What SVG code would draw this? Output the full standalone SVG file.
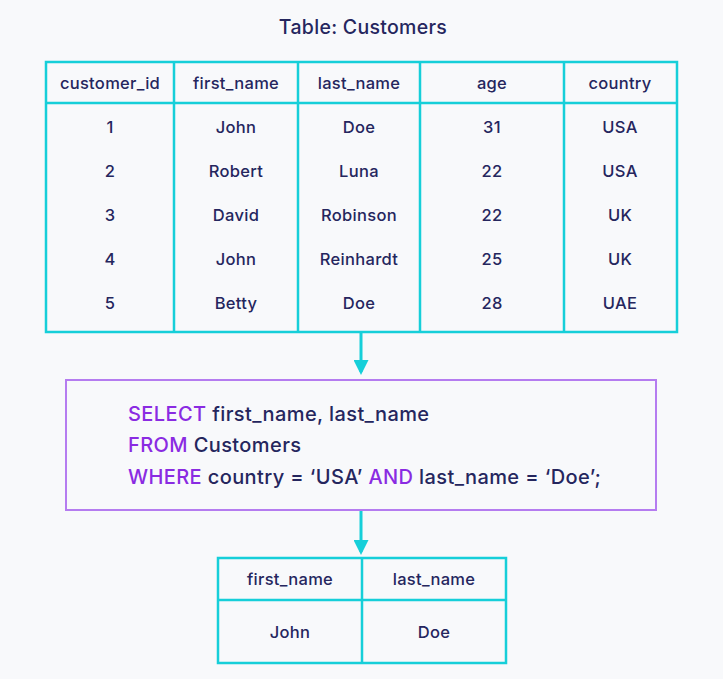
<svg xmlns="http://www.w3.org/2000/svg" width="723" height="679" viewBox="0 0 723 679">
<defs>
<style>
.t{font-family:Inter,"Noto Sans","Liberation Sans",sans-serif;fill:#25265e;text-anchor:middle;font-size:16.5px;font-weight:500;letter-spacing:0.3px}
.grid{fill:none;stroke:#16cfd9;stroke-width:2.5}
.sql{font-family:Inter,"Noto Sans","Liberation Sans",sans-serif;fill:#25265e;font-size:20px;font-weight:500;letter-spacing:0.4px}
.kw{fill:#8a2be2}
.conn{stroke:#16cfd9;stroke-width:3;fill:none}
</style>
<marker id="ah" markerWidth="5" markerHeight="5" refX="4" refY="2.5" orient="auto" markerUnits="strokeWidth">
<path d="M0,0 L5,2.5 L0,5 Z" fill="#16cfd9"/>
</marker>
</defs>
<rect width="723" height="679" fill="#f8f9fb"/>
<text class="t" x="363" y="34" style="font-size:19.5px">Table: Customers</text>
<g id="customers">
<rect class="grid" x="46" y="62" width="631" height="270"/>
<path class="grid" d="M46,103H677M174,62V332M298,62V332M420,62V332M564,62V332"/>
<text class="t" x="110" y="89">customer_id</text>
<text class="t" x="236" y="89">first_name</text>
<text class="t" x="359" y="89">last_name</text>
<text class="t" x="492" y="89">age</text>
<text class="t" x="620" y="89">country</text>
<g>
<text class="t" x="110" y="133">1</text><text class="t" x="236" y="133">John</text><text class="t" x="359" y="133">Doe</text><text class="t" x="492" y="133">31</text><text class="t" x="620" y="133">USA</text>
<text class="t" x="110" y="177">2</text><text class="t" x="236" y="177">Robert</text><text class="t" x="359" y="177">Luna</text><text class="t" x="492" y="177">22</text><text class="t" x="620" y="177">USA</text>
<text class="t" x="110" y="221">3</text><text class="t" x="236" y="221">David</text><text class="t" x="359" y="221">Robinson</text><text class="t" x="492" y="221">22</text><text class="t" x="620" y="221">UK</text>
<text class="t" x="110" y="265">4</text><text class="t" x="236" y="265">John</text><text class="t" x="359" y="265">Reinhardt</text><text class="t" x="492" y="265">25</text><text class="t" x="620" y="265">UK</text>
<text class="t" x="110" y="309">5</text><text class="t" x="236" y="309">Betty</text><text class="t" x="359" y="309">Doe</text><text class="t" x="492" y="309">28</text><text class="t" x="620" y="309">UAE</text>
</g>
</g>
<g id="query">
<rect x="66" y="380" width="590" height="130" fill="#f8f9fb" stroke="#b57cf0" stroke-width="2"/>
<text class="sql" x="128" y="421"><tspan class="kw">SELECT</tspan> first_name, last_name</text>
<text class="sql" x="128" y="452"><tspan class="kw">FROM</tspan> Customers</text>
<text class="sql" x="128" y="484"><tspan class="kw">WHERE</tspan> country = ‘USA’ <tspan class="kw">AND</tspan> last_name = ‘Doe’;</text>
</g>
<g id="result">
<rect class="grid" x="218" y="558" width="288" height="105"/>
<path class="grid" d="M218,600H506M362,558V663"/>
<text class="t" x="290" y="585">first_name</text>
<text class="t" x="434" y="585">last_name</text>
<text class="t" x="290" y="638">John</text>
<text class="t" x="434" y="638">Doe</text>
</g>
<g id="connectors">
<line class="conn" x1="361" y1="333" x2="361" y2="372" marker-end="url(#ah)"/>
<line class="conn" x1="361" y1="511" x2="361" y2="552" marker-end="url(#ah)"/>
</g>
</svg>
